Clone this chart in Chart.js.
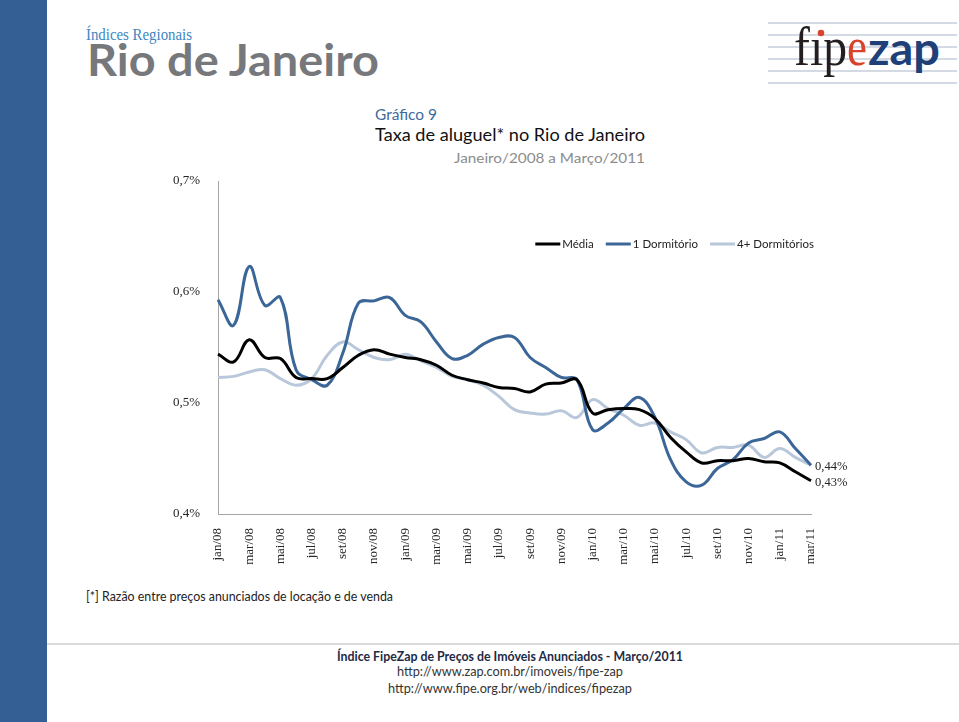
<!DOCTYPE html>
<html><head><meta charset="utf-8">
<script src="https://cdn.jsdelivr.net/npm/chart.js@4"></script>
<style>
html,body{margin:0;padding:0;background:#fff;width:959px;height:722px;overflow:hidden;}
#page{position:relative;width:959px;height:722px;}
svg{position:absolute;left:0;top:0;}
#wrap{position:absolute;left:150px;top:90px;width:720px;height:480px;}
</style></head><body>
<div id="page">
<svg width="959" height="722" xmlns="http://www.w3.org/2000/svg">
  <rect x="0" y="0" width="47" height="722" fill="#335f95"/>
  <text x="86" y="40" font-family="Liberation Serif" font-size="16" fill="#3d86c0" textLength="106" lengthAdjust="spacingAndGlyphs">Índices Regionais</text>
  <text x="87" y="76" font-family="Lato" font-weight="bold" font-size="44" fill="#77787b" textLength="292" lengthAdjust="spacingAndGlyphs">Rio de Janeiro</text>
  <g stroke="#a9b6c8" stroke-width="1.2">
    <line x1="768" y1="23" x2="957" y2="23"/>
    <line x1="768" y1="35" x2="957" y2="35"/>
    <line x1="768" y1="47" x2="957" y2="47"/>
    <line x1="768" y1="59" x2="957" y2="59"/>
    <line x1="768" y1="71" x2="957" y2="71"/>
    <line x1="768" y1="83" x2="957" y2="83"/>
  </g>
  <text x="794" y="65" font-family="Liberation Serif" font-size="54" fill="#231f20" textLength="53" lengthAdjust="spacingAndGlyphs">fıp</text>
  <circle cx="821" cy="33" r="3.3" fill="#d8432c"/>
  <text x="847" y="65" font-family="Liberation Serif" font-size="54" fill="#d8432c" textLength="20" lengthAdjust="spacingAndGlyphs">e</text>
  <text x="868" y="65" font-family="Lato" font-weight="bold" font-size="45" fill="#1e3f78" textLength="72" lengthAdjust="spacingAndGlyphs">zap</text>

  <text x="375" y="120" font-family="Lato" font-size="15.5" fill="#3d6a9c" textLength="62" lengthAdjust="spacingAndGlyphs">Gráfico 9</text>
  <text x="375" y="141" font-family="Lato" font-size="17" fill="#111" textLength="270" lengthAdjust="spacingAndGlyphs">Taxa de aluguel* no Rio de Janeiro</text>
  <text x="645" y="163" font-family="Lato" font-size="14" fill="#8c8c8c" text-anchor="end" textLength="191" lengthAdjust="spacingAndGlyphs">Janeiro/2008 a Março/2011</text>

  <text x="86" y="601" font-family="Lato" font-size="13.5" fill="#222" textLength="307" lengthAdjust="spacingAndGlyphs">[*] Razão entre preços anunciados de locação e de venda</text>

  <line x1="47" y1="644" x2="959" y2="644" stroke="#cfcfcf" stroke-width="1.5"/>
  <text x="510" y="661" font-family="Lato" font-weight="bold" font-size="13" fill="#1d2b46" text-anchor="middle" textLength="346" lengthAdjust="spacingAndGlyphs">Índice FipeZap de Preços de Imóveis Anunciados - Março/2011</text>
  <text x="510" y="676" font-family="Lato" font-size="14" fill="#333" text-anchor="middle" textLength="226" lengthAdjust="spacingAndGlyphs">http://www.zap.com.br/imoveis/fipe-zap</text>
  <text x="510" y="693" font-family="Lato" font-size="14" fill="#333" text-anchor="middle" textLength="244" lengthAdjust="spacingAndGlyphs">http://www.fipe.org.br/web/indices/fipezap</text>
</svg>
<div id="wrap"><canvas id="c" width="720" height="480"></canvas></div>
</div>
<script>
const labels = ['jan/08','fev/08','mar/08','abr/08','mai/08','jun/08','jul/08','ago/08','set/08','out/08','nov/08','dez/08',
  'jan/09','fev/09','mar/09','abr/09','mai/09','jun/09','jul/09','ago/09','set/09','out/09','nov/09','dez/09',
  'jan/10','fev/10','mar/10','abr/10','mai/10','jun/10','jul/10','ago/10','set/10','out/10','nov/10','dez/10',
  'jan/11','fev/11','mar/11'];
const media = [0.544,0.537,0.557,0.541,0.540,0.523,0.522,0.522,0.532,0.543,0.548,0.544,0.541,0.539,0.534,0.525,0.521,0.518,0.514,0.513,
  0.510,0.517,0.518,0.521,0.491,0.494,0.495,0.494,0.486,0.469,0.456,0.446,0.448,0.448,0.450,0.447,0.446,0.438,0.430];
const dorm1 = [0.593,0.570,0.623,0.588,0.595,0.530,0.521,0.516,0.545,0.590,0.592,0.595,0.579,0.573,0.555,0.540,0.543,0.553,0.559,0.559,
  0.541,0.532,0.523,0.521,0.476,0.482,0.495,0.505,0.487,0.449,0.429,0.426,0.441,0.449,0.464,0.468,0.474,0.459,0.444];
const dorm4 = [0.523,0.524,0.528,0.530,0.522,0.516,0.522,0.543,0.555,0.548,0.541,0.539,0.544,0.538,0.532,0.524,0.521,0.516,0.506,0.494,
  0.491,0.490,0.493,0.487,0.503,0.495,0.489,0.480,0.482,0.474,0.467,0.455,0.460,0.460,0.462,0.451,0.459,0.451,0.444];
const yTicks = [0.4, 0.5, 0.6, 0.7];
const seriesNames = ['Média', '1 Dormitório', '4+ Dormitórios'];

const serif = 'Liberation Serif';

// Horizontal line-marker legend, right-aligned, drawn from the datasets
const lineLegend = {
  id: 'lineLegend',
  afterDraw(chart, args, opts) {
    const ctx = chart.ctx;
    ctx.save();
    ctx.font = opts.fontSize + 'px ' + opts.fontFamily;
    ctx.textBaseline = 'middle';
    ctx.textAlign = 'left';
    const items = chart.data.datasets.map(ds => ({ text: ds.label, color: ds.borderColor, lw: ds.borderWidth }));
    const widths = items.map(it => opts.lineLength + opts.gap + ctx.measureText(it.text).width);
    const total = widths.reduce((a, b) => a + b, 0) + opts.spacing * (items.length - 1);
    let x = opts.right - total;
    const y = opts.y;
    items.forEach((it, i) => {
      ctx.strokeStyle = it.color;
      ctx.lineWidth = it.lw;
      ctx.beginPath();
      ctx.moveTo(x, y);
      ctx.lineTo(x + opts.lineLength, y);
      ctx.stroke();
      ctx.fillStyle = opts.color;
      ctx.fillText(it.text, x + opts.lineLength + opts.gap, y + 0.5);
      x += widths[i] + opts.spacing;
    });
    ctx.restore();
  }
};

const endLabels = {
  id: 'endLabels',
  afterDatasetsDraw(chart) {
    const ctx = chart.ctx;
    chart.data.datasets.forEach((ds, i) => {
      if (!ds.endLabel) return;
      const meta = chart.getDatasetMeta(i);
      const p = meta.data[meta.data.length - 1];
      const v = ds.data[ds.data.length - 1];
      ctx.save();
      ctx.font = '12.5px "' + serif + '"';
      ctx.fillStyle = '#262626';
      ctx.textBaseline = 'middle';
      ctx.textAlign = 'left';
      ctx.fillText(v.toFixed(2).replace('.', ',') + '%', p.x + 4, p.y + 2);
      ctx.restore();
    });
  }
};

new Chart(document.getElementById('c'), {
  type: 'line',
  data: {
    labels: labels,
    datasets: [
      { label: seriesNames[0], data: media, borderColor: '#000000', backgroundColor: '#000000', borderWidth: 3, pointRadius: 0, tension: 0.4, endLabel: true },
      { label: seriesNames[1], data: dorm1, borderColor: '#3b6698', backgroundColor: '#3b6698', borderWidth: 3, pointRadius: 0, tension: 0.4 },
      { label: seriesNames[2], data: dorm4, borderColor: '#b8c7da', backgroundColor: '#b8c7da', borderWidth: 3, pointRadius: 0, tension: 0.4, endLabel: true }
    ]
  },
  options: {
    responsive: false,
    animation: false,
    layout: { padding: { left: 0, right: 59, top: 91, bottom: 0 } },
    plugins: {
      legend: { display: false },
      lineLegend: { right: 664, y: 154, lineLength: 25, gap: 2, spacing: 12, color: '#222', fontSize: 11.5, fontFamily: 'Lato' },
      title: { display: false },
      tooltip: { enabled: false }
    },
    scales: {
      x: {
        grid: { display: false },
        border: { display: true, color: '#a6a6a6', width: 1 },
        ticks: {
          autoSkip: false, maxRotation: 90, minRotation: 90, padding: 6, color: '#262626',
          font: { family: serif, size: 13 },
          callback: (v, i) => (i % 2 === 0 ? labels[i] : '')
        },
        afterFit: (s) => { s.height = 56; }
      },
      y: {
        min: 0.4, max: 0.7,
        grid: { display: false },
        border: { display: true, color: '#a6a6a6', width: 1 },
        afterBuildTicks: (s) => { s.ticks = yTicks.map(v => ({ value: v })); },
        ticks: {
          padding: 10, color: '#262626', font: { family: serif, size: 13 },
          callback: (v) => v.toFixed(1).replace('.', ',') + '%'
        },
        afterFit: (s) => { s.width = 68; }
      }
    }
  },
  plugins: [lineLegend, endLabels]
});
</script>
</body></html>
